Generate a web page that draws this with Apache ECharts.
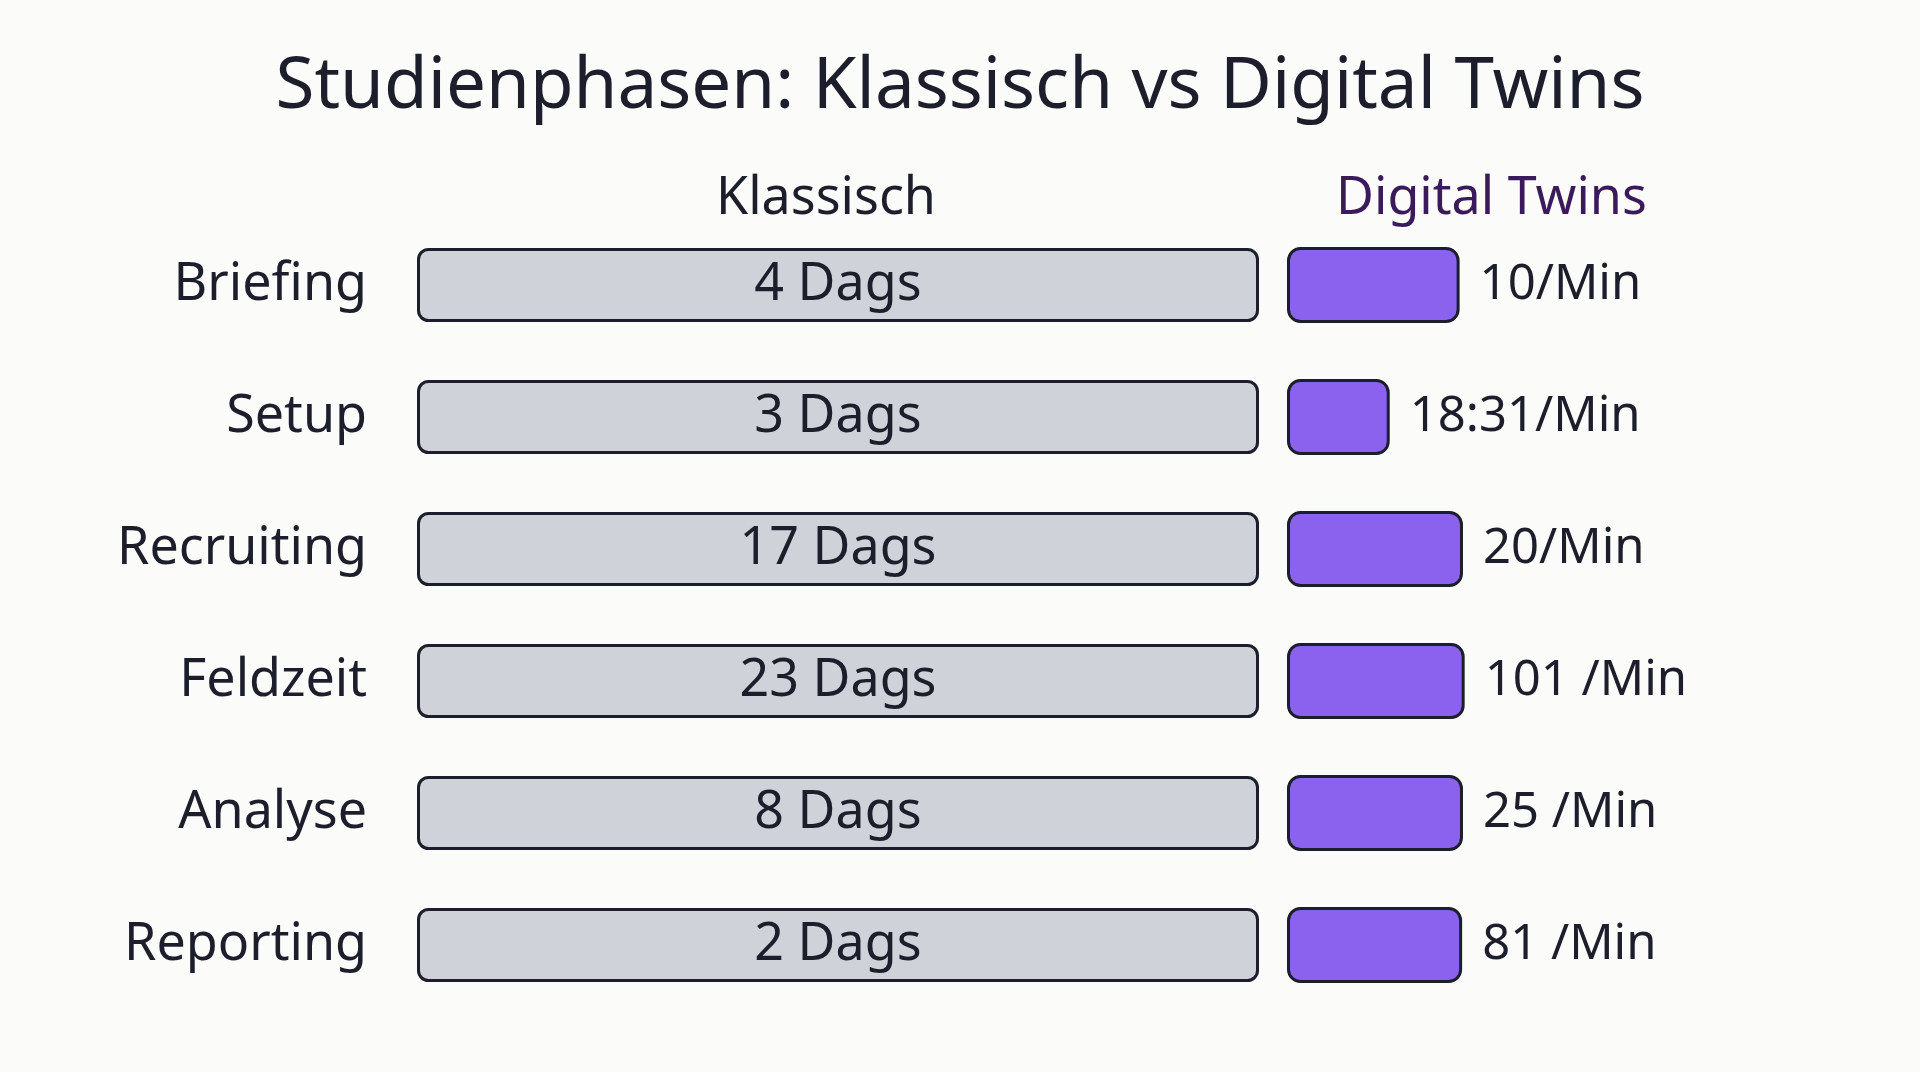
<!DOCTYPE html>
<html>
<head>
<meta charset="utf-8">
<script src="https://cdn.jsdelivr.net/npm/echarts@6/dist/echarts.min.js"></script>
<style>
html,body{margin:0;padding:0;background:#fbfbfa;}
#chart{width:1920px;height:1072px;}
</style>
</head>
<body>
<div id="chart"></div>
<script>
// ---- data ----
const titleText = 'Studienphasen: Klassisch vs Digital Twins';
const headerClassic = 'Klassisch';
const headerDigital = 'Digital Twins';
const phases = ['Briefing', 'Setup', 'Recruiting', 'Feldzeit', 'Analyse', 'Reporting'];
const classicDays = ['4 Dags', '3 Dags', '17 Dags', '23 Dags', '8 Dags', '2 Dags'];
const classicTrack = [100, 100, 100, 100, 100, 100];
const digitalLength = [20.5, 12.2, 20.9, 21.1, 20.9, 20.8];
const digitalLabels = ['10/Min', '18:31/Min', '20/Min', '101 /Min', '25 /Min', '81 /Min'];

// ---- style ----
const FONT = 'Noto Sans';
const INK = '#1c1f2b';

const chart = echarts.init(document.getElementById('chart'));
chart.setOption({
  backgroundColor: '#fbfbfa',
  animation: false,
  title: {
    text: titleText,
    left: 'center',
    top: 47,
    textStyle: { fontFamily: FONT, fontSize: 71, fontWeight: 'normal', color: INK }
  },
  graphic: [
    { type: 'text', x: 826, y: 199, style: { text: headerClassic, align: 'center', verticalAlign: 'middle', fontFamily: FONT, fontSize: 52, fill: INK } },
    { type: 'text', x: 1336, y: 199, style: { text: headerDigital, align: 'left', verticalAlign: 'middle', fontFamily: FONT, fontSize: 52, fill: '#3b1a5c' } }
  ],
  grid: [
    { left: 417, top: 219, width: 842, height: 792 },
    { left: 1287, top: 219, width: 421, height: 792 }
  ],
  xAxis: [
    { type: 'value', gridIndex: 0, min: 0, max: 100, show: false },
    { type: 'value', gridIndex: 1, min: 0, max: 50, show: false }
  ],
  yAxis: [
    {
      type: 'category', gridIndex: 0, data: phases, inverse: true,
      axisLine: { show: false }, axisTick: { show: false }, splitLine: { show: false },
      axisLabel: { margin: 50, fontFamily: FONT, fontSize: 52, color: INK }
    },
    {
      type: 'category', gridIndex: 1, data: phases, inverse: true, show: false
    }
  ],
  series: [
    {
      type: 'bar', xAxisIndex: 0, yAxisIndex: 0, data: classicTrack, barWidth: 74,
      itemStyle: { color: '#cfd2d9', borderColor: INK, borderWidth: 3, borderRadius: 10 },
      label: {
        show: true, position: 'inside',
        formatter: p => classicDays[p.dataIndex],
        fontFamily: FONT, fontSize: 52, color: INK
      }
    },
    {
      type: 'bar', xAxisIndex: 1, yAxisIndex: 1, data: digitalLength, barWidth: 76,
      itemStyle: { color: '#8b62ee', borderColor: INK, borderWidth: 3, borderRadius: 12 },
      label: {
        show: true, position: 'right', distance: 20,
        formatter: p => digitalLabels[p.dataIndex],
        fontFamily: FONT, fontSize: 49, color: INK
      }
    }
  ]
});
</script>
</body>
</html>
